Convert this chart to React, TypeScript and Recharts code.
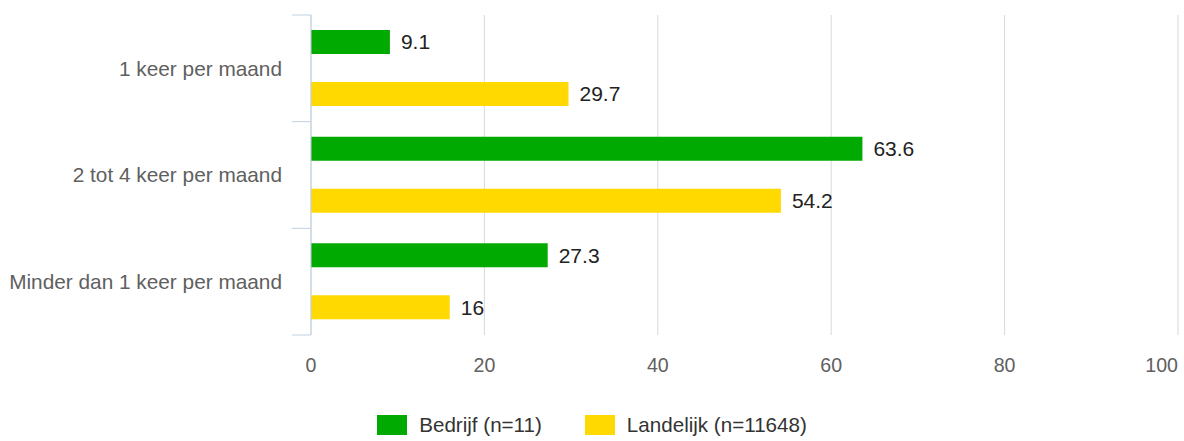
import { BarChart, Bar, XAxis, YAxis, CartesianGrid, Legend, LabelList } from 'recharts'

const categories = ['1 keer per maand', '2 tot 4 keer per maand', 'Minder dan 1 keer per maand']
const bedrijf = [9.1, 63.6, 27.3]
const landelijk = [29.7, 54.2, 16]
const xTicks = [0, 20, 40, 60, 80, 100]

const seriesNames = ['Bedrijf (n=11)', 'Landelijk (n=11648)']
const colors = ['#00aa00', '#ffd900']

const data = categories.map((name, i) => ({
  name,
  bedrijf: bedrijf[i],
  landelijk: landelijk[i],
}))

const FONT = '"Liberation Sans", Arial, sans-serif'
const AXIS_COLOR = '#c0d0e0'
const PLOT_HEIGHT = 320

function CategoryTick(props: any) {
  const { x, y, payload, index } = props
  const band = PLOT_HEIGHT / categories.length
  const isLast = index === categories.length - 1
  return (
    <g>
      <line x1={x + 10} x2={x + 29} y1={y - band / 2} y2={y - band / 2} stroke={AXIS_COLOR} strokeWidth={1} />
      {isLast && (
        <line x1={x + 10} x2={x + 29} y1={y + band / 2} y2={y + band / 2} stroke={AXIS_COLOR} strokeWidth={1} />
      )}
      <text x={x} y={y} dy="0.355em" textAnchor="end" fill="#606060" fontSize={20.8} fontFamily={FONT}>
        {payload.value}
      </text>
    </g>
  )
}

function ValueTick(props: any) {
  const { x, y, payload, index } = props
  const isLast = index === xTicks.length - 1
  return (
    <text x={x} y={y} dy="0.71em" textAnchor={isLast ? 'end' : 'middle'} fill="#606060" fontSize={19.6} fontFamily={FONT}>
      {payload.value}
    </text>
  )
}

function LegendContent() {
  return (
    <div style={{ display: 'flex', justifyContent: 'center', alignItems: 'center', fontFamily: FONT, fontSize: 20.6, color: '#333' }}>
      {seriesNames.map((s, i) => (
        <div key={s} style={{ display: 'flex', alignItems: 'center', marginLeft: i > 0 ? 43 : 0 }}>
          <span style={{ display: 'inline-block', width: 30, height: 20, background: colors[i], marginRight: 12 }} />
          <span>{s}</span>
        </div>
      ))}
    </div>
  )
}

export default function App() {
  return (
    <div style={{ position: 'absolute', left: 0, top: 0, background: '#fff' }}>
      <BarChart
        width={1184}
        height={441}
        data={data}
        layout="vertical"
        margin={{ top: 15, right: 6, bottom: 76, left: 0 }}
        barSize={24}
        barGap={28}
      >
        <CartesianGrid horizontal={false} stroke="#d8d8d8" />
        <XAxis
          type="number"
          domain={[0, 100]}
          ticks={xTicks}
          axisLine={false}
          tickLine={false}
          tickSize={0}
          tickMargin={23}
          tick={<ValueTick />}
          interval={0}
        />
        <YAxis
          type="category"
          dataKey="name"
          width={311}
          axisLine={{ stroke: AXIS_COLOR }}
          tickLine={false}
          tickSize={19}
          tickMargin={10}
          tick={<CategoryTick />}
          interval={0}
        />
        <Legend verticalAlign="middle" align="center" layout="horizontal" content={<LegendContent />} wrapperStyle={{ top: 413, left: 0, width: 1184 }} />
        <Bar dataKey="bedrijf" name={seriesNames[0]} fill={colors[0]} isAnimationActive={false}>
          <LabelList dataKey="bedrijf" position="right" offset={11} fill="#222" fontSize={21} fontFamily={FONT} />
        </Bar>
        <Bar dataKey="landelijk" name={seriesNames[1]} fill={colors[1]} isAnimationActive={false}>
          <LabelList dataKey="landelijk" position="right" offset={11} fill="#222" fontSize={21} fontFamily={FONT} />
        </Bar>
      </BarChart>
    </div>
  )
}
